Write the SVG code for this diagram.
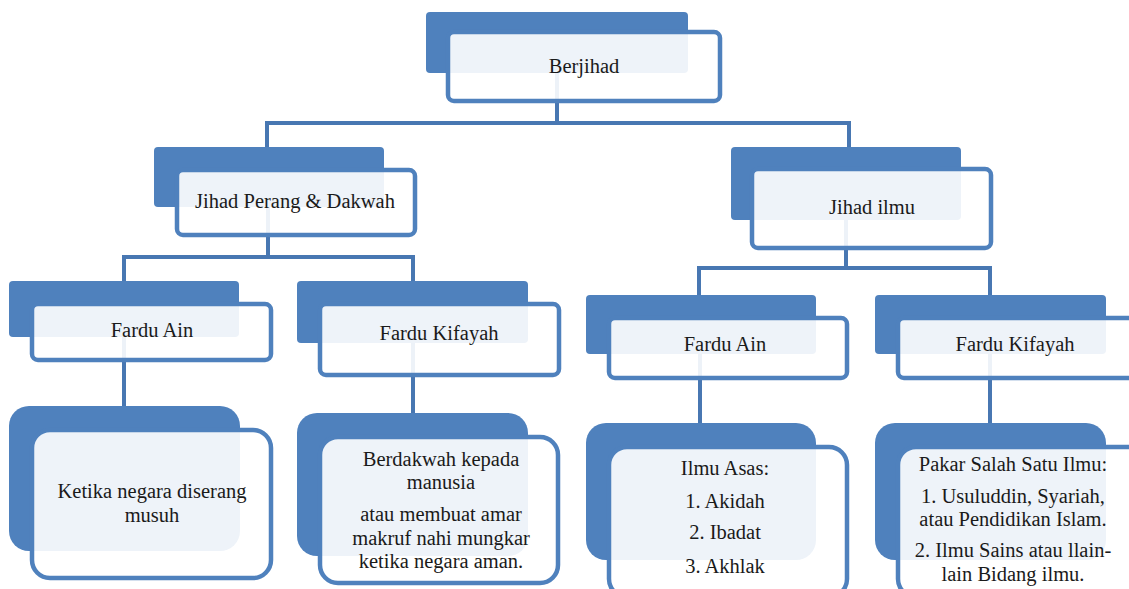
<svg xmlns="http://www.w3.org/2000/svg" width="1129" height="589" viewBox="0 0 1129 589">
<style>
.bg{fill:#ffffff}
.c{stroke:#4877b2;stroke-width:4;fill:none}
.b{fill:#4f81bd}
.f{fill:#ffffff;fill-opacity:0.9;stroke:#4f81bd;stroke-width:4.5}
text{font-family:'Liberation Serif','DejaVu Serif',serif;font-size:20.5px;fill:#1a1a1a;text-anchor:middle}
</style>
<rect class="bg" x="0" y="0" width="1129" height="589"/>
<g id="connectors">
<path class="c" d="M557 73V123M267 123H849M267 121V147M849 121V147"/>
<path class="c" d="M268 207V257M123 257H414M124 255V281M413 255V281"/>
<path class="c" d="M846 220V268M697 268H991M699 266V295M990 266V295"/>
<path class="c" d="M124 337V406M413 343V413M700 354V423M990 354V423"/>
</g>
<g id="n-berjihad">
<rect class="b" x="426" y="12" width="262" height="61" rx="4"/>
<rect class="f" x="448" y="32" width="272" height="69" rx="6"/>
<text x="584" y="73">Berjihad</text>
</g>
<g id="n-jihad-perang">
<rect class="b" x="154" y="147" width="230" height="60" rx="4"/>
<rect class="f" x="177" y="170" width="238" height="65" rx="6"/>
<text x="295" y="208">Jihad Perang &amp; Dakwah</text>
</g>
<g id="n-jihad-ilmu">
<rect class="b" x="731" y="147" width="230" height="73" rx="4"/>
<rect class="f" x="752" y="169" width="239" height="79" rx="6"/>
<text x="872" y="214">Jihad ilmu</text>
</g>
<g id="n-fardu-ain-1">
<rect class="b" x="9" y="281" width="230" height="56" rx="4"/>
<rect class="f" x="32" y="304" width="239" height="56" rx="6"/>
<text x="152" y="337">Fardu Ain</text>
</g>
<g id="n-fardu-kifayah-1">
<rect class="b" x="297" y="281" width="231" height="62" rx="4"/>
<rect class="f" x="320" y="304" width="239" height="71" rx="6"/>
<text x="439" y="340">Fardu Kifayah</text>
</g>
<g id="n-fardu-ain-2">
<rect class="b" x="586" y="295" width="230" height="59" rx="4"/>
<rect class="f" x="609" y="318" width="238" height="60" rx="6"/>
<text x="725" y="351">Fardu Ain</text>
</g>
<g id="n-fardu-kifayah-2">
<rect class="b" x="875" y="295" width="231" height="59" rx="4"/>
<rect class="f" x="898" y="318" width="250" height="60" rx="6"/>
<text x="1015" y="351">Fardu Kifayah</text>
</g>
<g id="n-ketika">
<rect class="b" x="9" y="406" width="231" height="145" rx="20"/>
<rect class="f" x="32" y="430" width="239" height="148" rx="18"/>
<text x="152" y="498">Ketika negara diserang</text>
<text x="152" y="522">musuh</text>
</g>
<g id="n-berdakwah">
<rect class="b" x="297" y="413" width="231" height="143" rx="20"/>
<rect class="f" x="320" y="437" width="238" height="146" rx="18"/>
<text x="441" y="466">Berdakwah kepada</text>
<text x="441" y="489">manusia</text>
<text x="441" y="521">atau membuat amar</text>
<text x="441" y="545">makruf nahi mungkar</text>
<text x="441" y="568">ketika negara aman.</text>
</g>
<g id="n-ilmu-asas">
<rect class="b" x="586" y="423" width="230" height="137" rx="20"/>
<rect class="f" x="609" y="447" width="238" height="150" rx="18"/>
<text x="725" y="475">Ilmu Asas:</text>
<text x="725" y="508">1. Akidah</text>
<text x="725" y="539">2. Ibadat</text>
<text x="725" y="573">3. Akhlak</text>
</g>
<g id="n-pakar">
<rect class="b" x="875" y="423" width="231" height="137" rx="20"/>
<rect class="f" x="898" y="447" width="250" height="150" rx="18"/>
<text x="1013" y="471">Pakar Salah Satu Ilmu:</text>
<text x="1013" y="503">1. Usuluddin, Syariah,</text>
<text x="1013" y="526">atau Pendidikan Islam.</text>
<text x="1013" y="557">2. Ilmu Sains atau llain-</text>
<text x="1013" y="581">lain Bidang ilmu.</text>
</g>
</svg>
